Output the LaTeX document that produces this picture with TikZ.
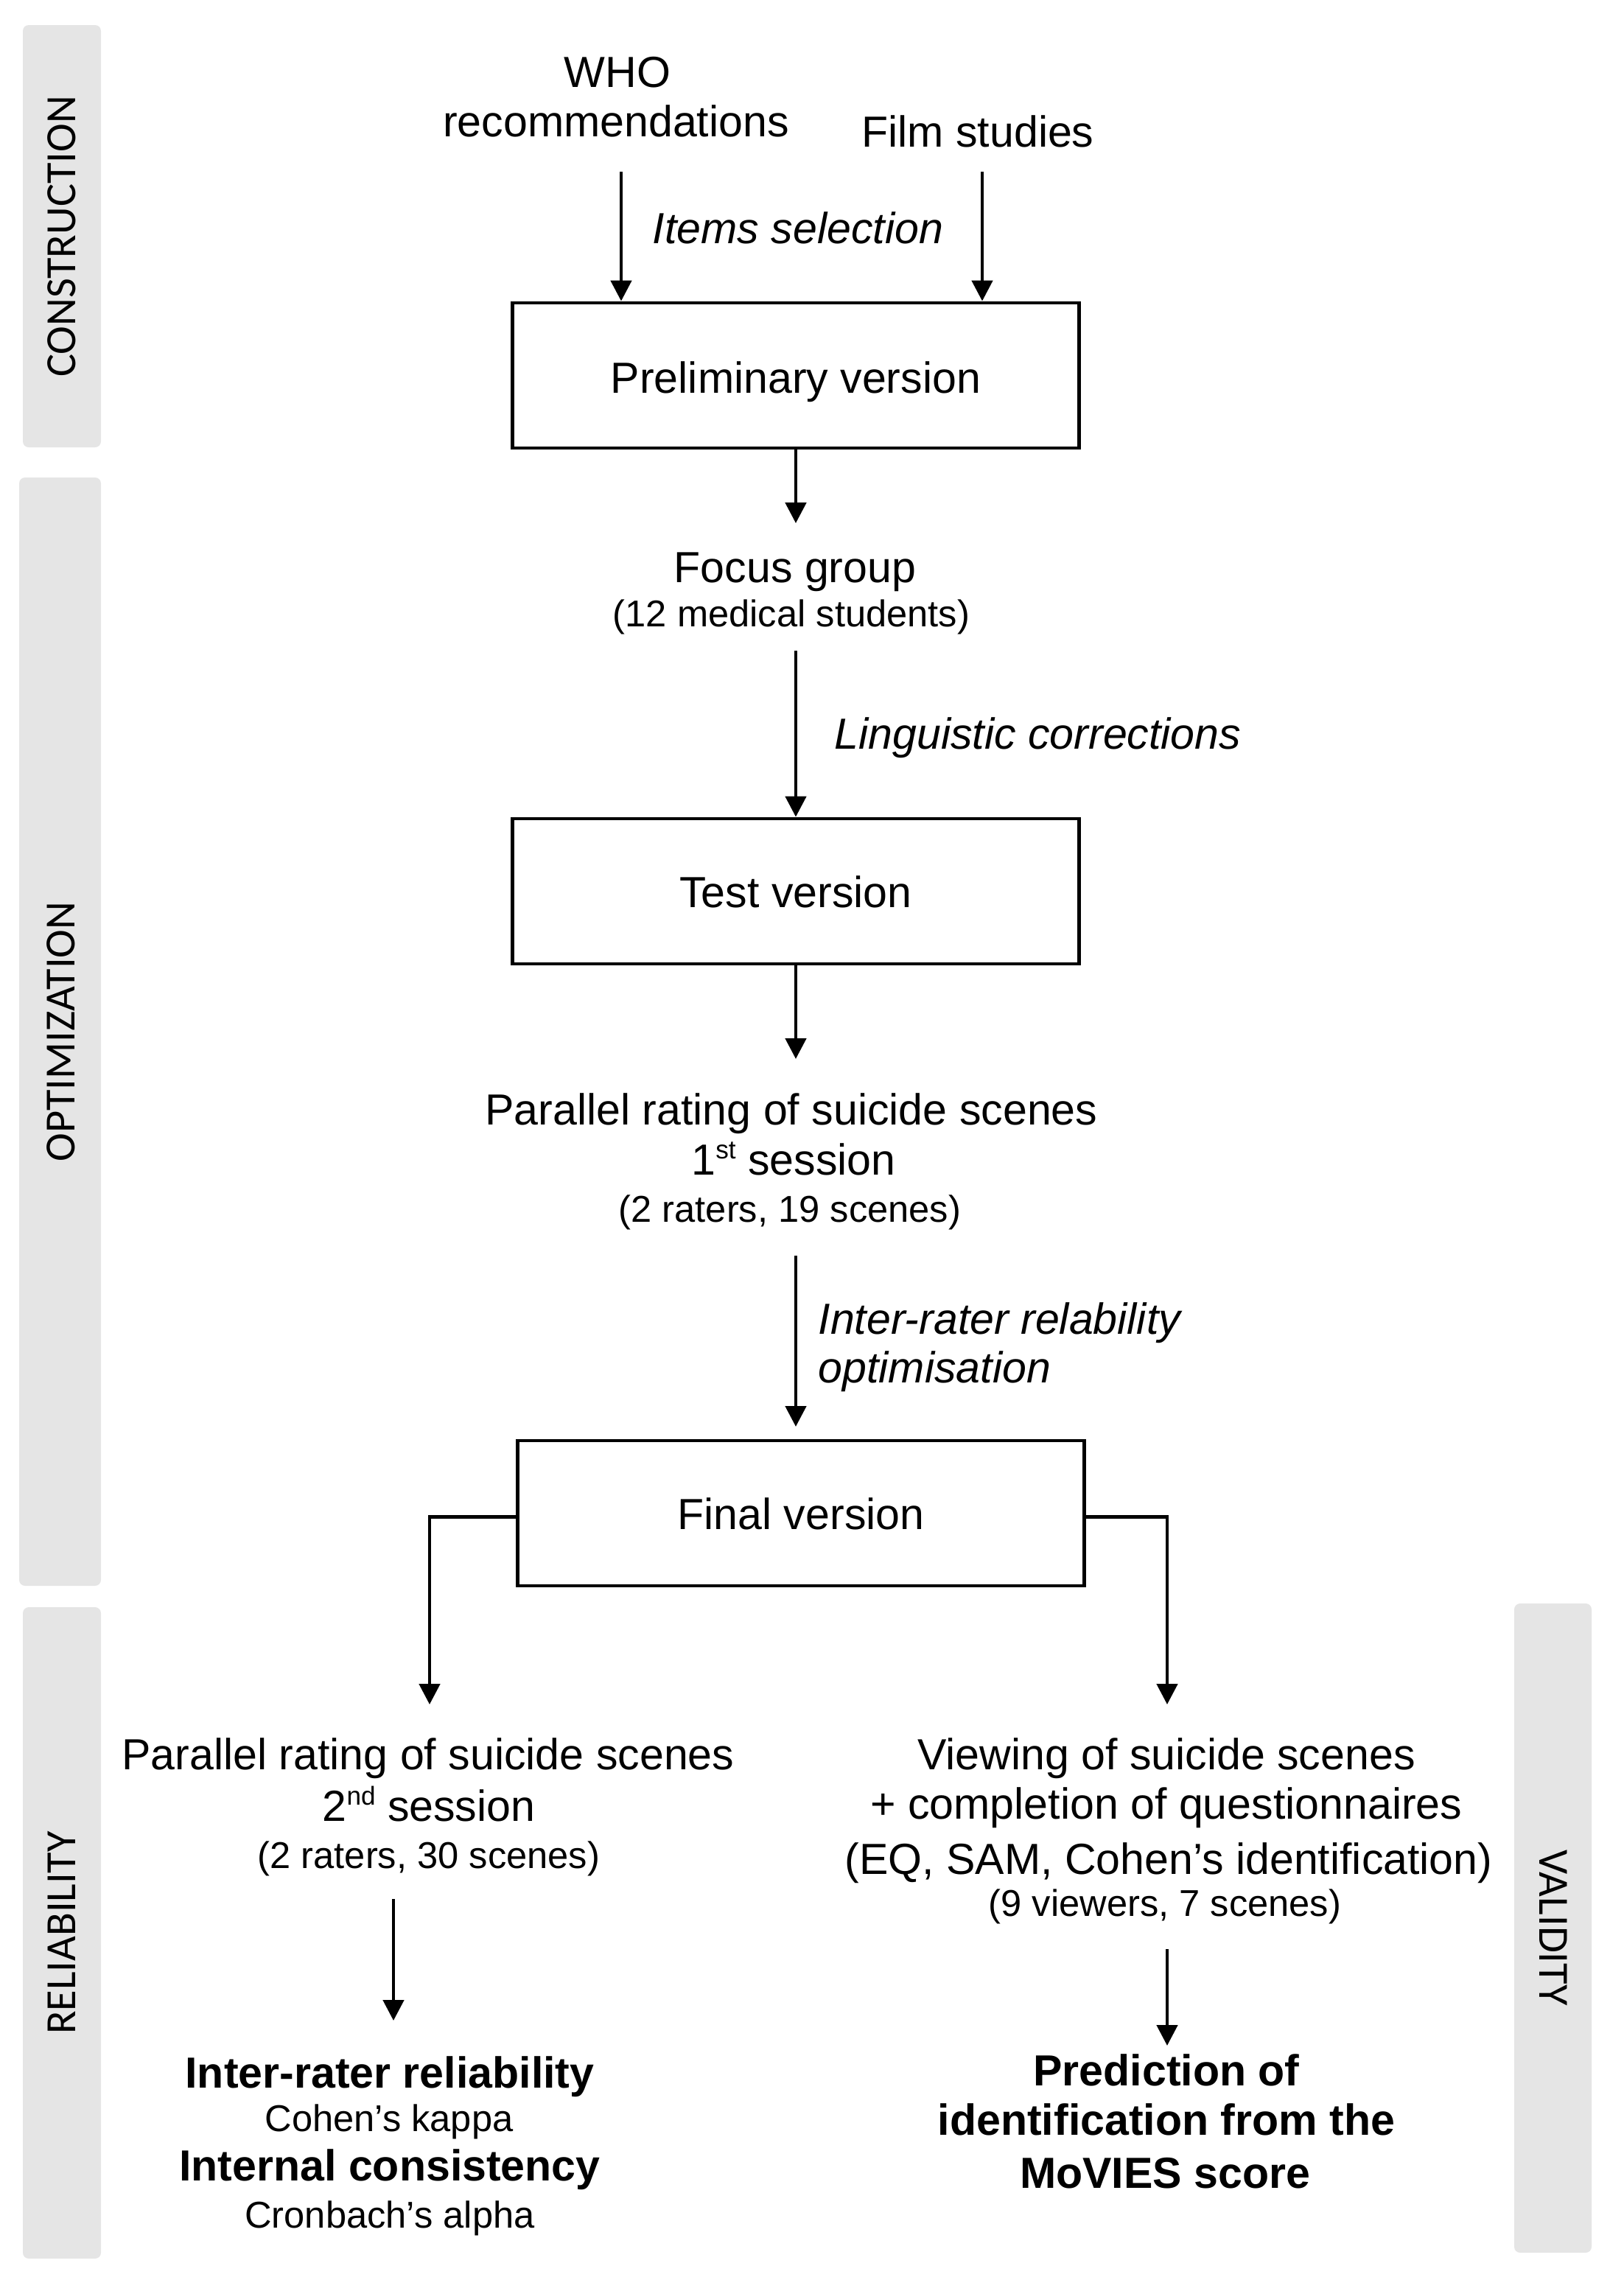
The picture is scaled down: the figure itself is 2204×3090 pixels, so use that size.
\documentclass[tikz,border=0pt]{standalone}
\usepackage{fontspec}
\setmainfont{Liberation Sans}
\newfontfamily\sidefont{Carlito}
\usetikzlibrary{arrows.meta}
\definecolor{barGray}{RGB}{229,229,229}
\newcommand\mainsz{\fontsize{16.8}{20}\selectfont}
\newcommand\smlsz{\fontsize{14.4}{17}\selectfont}
\newcommand\supr[1]{\raisebox{6pt}{\fontsize{10}{12}\selectfont #1}}
\begin{document}
\begin{tikzpicture}[x=0.01cm,y=-0.01cm,
  txt/.style={inner sep=0pt, anchor=base, font=\mainsz},
  txtit/.style={inner sep=0pt, anchor=base west, font=\mainsz\itshape},
  txtbf/.style={inner sep=0pt, anchor=base, font=\mainsz\bfseries},
  sml/.style={inner sep=0pt, anchor=base, font=\smlsz},
  stepbox/.style={draw, line width=1.35pt, minimum width=7.69cm, minimum height=1.97cm,
    inner sep=0pt, text height=0.43cm, text depth=0cm, font=\mainsz},
  arr/.style={line width=1.35pt, -{Triangle[width=0.28cm,length=0.28cm]}},
  bar/.style={fill=barGray, rounded corners=0.08cm},
  side/.style={font=\sidefont\fontsize{16.6}{20}\selectfont, inner sep=0pt}]
\useasboundingbox (0,0) rectangle (2204,3090);

% side bars
\fill[bar] (31,34) rectangle (137,607);
\fill[bar] (26,648) rectangle (137,2152);
\fill[bar] (31,2181) rectangle (137,3065);
\fill[bar] (2055,2176) rectangle (2160,3057);
\node[side, rotate=90] (lconst) at (84,321) {CONSTRUCTION};
\node[side, rotate=90] (lopt) at (83,1400) {OPTIMIZATION};
\node[side, rotate=90] (lrel) at (84,2623) {RELIABILITY};
\node[side, rotate=-90] (lval) at (2108,2616) {VALIDITY};

% construction
\node[txt] (who1) at (838,118) {WHO};
\node[txt] (who2) at (836,185) {recommendations};
\node[txt] (film) at (1327,199) {Film studies};
\node[txt, font=\mainsz\itshape] (items) at (1083,330) {Items selection};
\node[stepbox, text height=0.48cm] (prelim) at (1080,509.5) {Preliminary version};
\coordinate (whoS) at (843,233);
\coordinate (filmS) at (1333,233);
\draw[arr] (whoS) -- (prelim.north -| whoS);
\draw[arr] (filmS) -- (prelim.north -| filmS);

% optimization
\coordinate (focusIn) at (1080,710);
\draw[arr] (prelim.south) -- (focusIn);
\node[txt] (focus1) at (1079,790) {Focus group};
\node[sml] (focus2) at (1074,850) {(12 medical students)};
\node[txtit] (ling) at (1132,1016) {Linguistic corrections};
\node[stepbox] (test) at (1080,1209.5) {Test version};
\coordinate (focusOut) at (1080,883);
\draw[arr] (focusOut) -- (test.north);
\coordinate (par1In) at (1080,1437);
\draw[arr] (test.south) -- (par1In);
\node[txt] (par1a) at (1074,1526) {Parallel rating of suicide scenes};
\node[txt] (par1b) at (1077,1594) {1\supr{st} session};
\node[sml] (par1c) at (1072,1658) {(2 raters, 19 scenes)};
\node[txtit] (iro1) at (1110,1810) {Inter-rater relability};
\node[txtit] (iro2) at (1110,1876) {optimisation};
\node[stepbox] (final) at (1087,2053.5) {Final version};
\coordinate (par1Out) at (1080,1704);
\coordinate (finalIn) at (1080,1936);
\draw[arr] (par1Out) -- (finalIn);

% branches
\coordinate (brL) at (583,2313);
\coordinate (brR) at (1584,2313);
\draw[arr] ([yshift=-0.05cm]final.west) -| (brL);
\draw[arr] ([yshift=-0.05cm]final.east) -| (brR);

% reliability
\node[txt] (par2a) at (581,2401) {Parallel rating of suicide scenes};
\node[txt] (par2b) at (582,2471) {2\supr{nd} session};
\node[sml] (par2c) at (582,2535) {(2 raters, 30 scenes)};
\coordinate (relS) at (534,2577);
\coordinate (relE) at (534,2742);
\draw[arr] (relS) -- (relE);
\node[txtbf] (irr) at (529,2833) {Inter-rater reliability};
\node[sml] (kappa) at (528,2892) {Cohen’s kappa};
\node[txtbf] (intc) at (529,2959) {Internal consistency};
\node[sml] (cron) at (529,3023) {Cronbach’s alpha};

% validity
\node[txt] (view1) at (1583,2401) {Viewing of suicide scenes};
\node[txt] (view2) at (1583,2468) {+ completion of questionnaires};
\node[txt] (view3) at (1586,2543) {(EQ, SAM, Cohen’s identification)};
\node[sml] (view4) at (1581,2600) {(9 viewers, 7 scenes)};
\coordinate (valS) at (1584,2645);
\coordinate (valE) at (1584,2776);
\draw[arr] (valS) -- (valE);
\node[txtbf] (pred1) at (1583,2830) {Prediction of};
\node[txtbf] (pred2) at (1583,2897) {identification from the};
\node[txtbf] (pred3) at (1581,2969) {MoVIES score};
\end{tikzpicture}
\end{document}
